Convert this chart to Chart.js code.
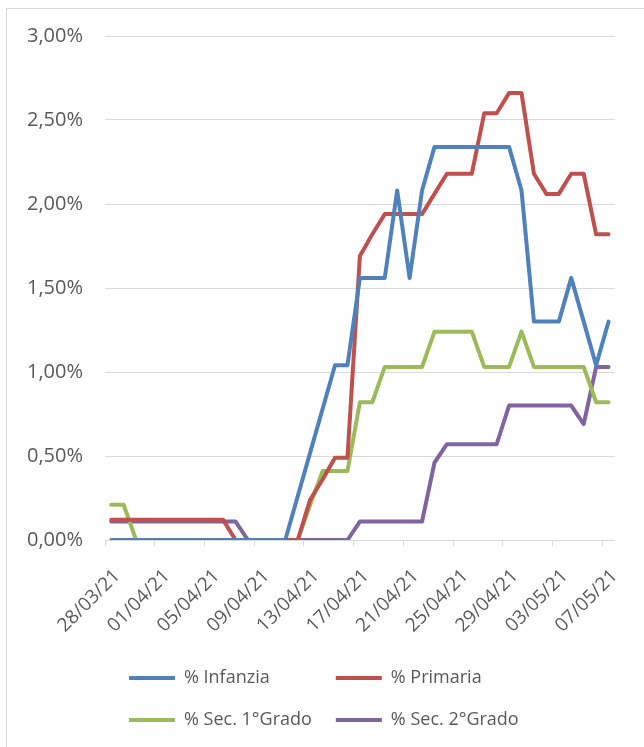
<!DOCTYPE html>
<html>
<head>
<meta charset="utf-8">
<script src="https://cdn.jsdelivr.net/npm/chart.js@4/dist/chart.umd.min.js"></script>
<style>
  html, body { margin: 0; padding: 0; background: #fff; }
  #wrap { position: relative; width: 644px; height: 747px; overflow: hidden; }
  #frame { position: absolute; left: 6px; top: 8px; width: 700px; height: 800px; border: 1px solid #d9d9d9; }
  canvas { position: absolute; left: 0; top: 0; }
</style>
</head>
<body>
<div id="wrap">
  <div id="frame"></div>
  <canvas id="chart" width="644" height="747"></canvas>
</div>
<script>
const dates = [
  '28/03/21','29/03/21','30/03/21','31/03/21','01/04/21','02/04/21','03/04/21','04/04/21',
  '05/04/21','06/04/21','07/04/21','08/04/21','09/04/21','10/04/21','11/04/21','12/04/21',
  '13/04/21','14/04/21','15/04/21','16/04/21','17/04/21','18/04/21','19/04/21','20/04/21',
  '21/04/21','22/04/21','23/04/21','24/04/21','25/04/21','26/04/21','27/04/21','28/04/21',
  '29/04/21','30/04/21','01/05/21','02/05/21','03/05/21','04/05/21','05/05/21','06/05/21',
  '07/05/21'
]

// valori in percentuale
const infanzia = [0,0,0,0,0,0,0,0,0,0,0,0,0,0,0,0.26,0.52,0.78,1.04,1.04,
  1.56,1.56,1.56,2.08,1.56,2.08,2.34,2.34,2.34,2.34,2.34,2.34,2.34,2.08,1.30,1.30,
  1.30,1.56,1.30,1.04,1.30]
const primaria = [0.12,0.12,0.12,0.12,0.12,0.12,0.12,0.12,0.12,0.12,0,0,0,0,0,0,0.24,0.36,0.49,0.49,
  1.69,1.82,1.94,1.94,1.94,1.94,2.06,2.18,2.18,2.18,2.54,2.54,2.66,2.66,2.18,2.06,
  2.06,2.18,2.18,1.82,1.82]
const sec1 = [0.21,0.21,0,0,0,0,0,0,0,0,0,0,0,0,0,0,0.21,0.41,0.41,0.41,
  0.82,0.82,1.03,1.03,1.03,1.03,1.24,1.24,1.24,1.24,1.03,1.03,1.03,1.24,1.03,1.03,
  1.03,1.03,1.03,0.82,0.82]
const sec2 = [0.11,0.11,0.11,0.11,0.11,0.11,0.11,0.11,0.11,0.11,0.11,0,0,0,0,0,0,0,0,0,
  0.11,0.11,0.11,0.11,0.11,0.11,0.46,0.57,0.57,0.57,0.57,0.57,0.80,0.80,0.80,0.80,
  0.80,0.80,0.69,1.03,1.03]

const seriesNames = ['% Infanzia', '% Primaria', '% Sec. 1°Grado', '% Sec. 2°Grado']
const seriesColors = ['#4f81bd', '#c0504d', '#9bbb59', '#8064a2']
const yTicks = [0, 0.5, 1, 1.5, 2, 2.5, 3]

const FONT = "'Open Sans', sans-serif"
const TEXT = '#595959'
const GRID = '#d9d9d9'

function makeSet(i, values) {
  return {
    label: seriesNames[i],
    data: values,
    borderColor: seriesColors[i],
    backgroundColor: seriesColors[i],
    borderWidth: 4,
    borderCapStyle: 'round',
    borderJoinStyle: 'round',
    pointRadius: 0,
    tension: 0
  }
}

// legend texts padded to the same width so the two columns line up
function paddedLabels(chart) {
  const items = Chart.defaults.plugins.legend.labels.generateLabels(chart)
  const ctx = chart.ctx
  ctx.save()
  ctx.font = '18px ' + FONT
  const maxW = Math.max(...items.map(it => ctx.measureText(it.text).width))
  items.forEach(it => {
    while (ctx.measureText(it.text + ' ').width <= maxW + 1) it.text += ' '
  })
  ctx.restore()
  return items
}

new Chart(document.getElementById('chart'), {
  type: 'line',
  data: {
    labels: dates,
    datasets: [
      makeSet(0, infanzia),
      makeSet(1, primaria),
      makeSet(2, sec1),
      makeSet(3, sec2)
    ]
  },
  options: {
    responsive: false,
    animation: false,
    layout: { padding: { top: 36, right: 27, bottom: 8, left: 0 } },
    plugins: {
      tooltip: { enabled: false },
      legend: {
        position: 'bottom',
        fullSize: false,
        align: 'start',
        labels: {
          color: TEXT,
          font: { family: FONT, size: 18 },
          usePointStyle: true,
          pointStyle: 'line',
          pointStyleWidth: 46,
          padding: 24,
          generateLabels: paddedLabels
        }
      }
    },
    scales: {
      x: {
        offset: true,
        grid: {
          offset: true,
          drawOnChartArea: false,
          drawTicks: true,
          tickLength: 6,
          color: ctx => (ctx.index % 4 === 0 ? GRID : 'rgba(0,0,0,0)')
        },
        border: { display: true, color: GRID },
        ticks: {
          autoSkip: false,
          minRotation: 45,
          maxRotation: 45,
          padding: 19,
          labelOffset: 6,
          color: TEXT,
          font: { family: FONT, size: 19 },
          callback: function (v, i) { return i % 4 === 0 ? dates[i] : '' }
        },
        afterFit: s => { s.height = 105 }
      },
      y: {
        min: 0,
        max: 3,
        afterBuildTicks: s => { s.ticks = yTicks.map(v => ({ value: v })) },
        grid: { color: GRID, drawTicks: false },
        border: { display: false },
        ticks: {
          padding: 22,
          color: TEXT,
          font: { family: FONT, size: 20 },
          callback: v => v.toFixed(2).replace('.', ',') + '%'
        },
        afterFit: s => { s.width = 105 }
      }
    }
  }
})
</script>
</body>
</html>
